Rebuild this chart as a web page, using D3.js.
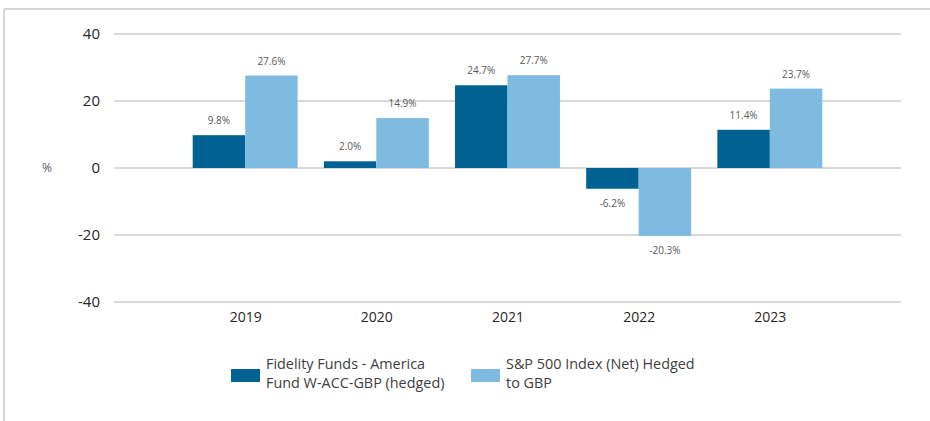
<!DOCTYPE html>
<html><head><meta charset="utf-8">
<script src="https://cdn.jsdelivr.net/npm/d3@7"></script>
<style>body{margin:0;background:#fff}svg{display:block}</style>
</head><body><svg id="c" width="930" height="421"></svg>
<script>
const years = ["2019","2020","2021","2022","2023"];
const fundValues = [9.8, 2.0, 24.7, -6.2, 11.4];
const indexValues = [27.6, 14.9, 27.7, -20.3, 23.7];
const seriesNames = ["Fidelity Funds - America Fund W-ACC-GBP (hedged)", "S&P 500 Index (Net) Hedged to GBP"];
const legendLines = [["Fidelity Funds - America","Fund W-ACC-GBP (hedged)"],["S&P 500 Index (Net) Hedged","to GBP"]];
const yTicks = [-40,-20,0,20,40];
const colors = ["#006192","#7fbbe1"];

const svg = d3.select("#c");
// frame
svg.append("line").attr("x1",4).attr("x2",930).attr("y1",9).attr("y2",9).attr("stroke","#d6d6d6").attr("stroke-width",2);
svg.append("line").attr("x1",4).attr("x2",4).attr("y1",9).attr("y2",421).attr("stroke","#d6d6d6").attr("stroke-width",2);

const left=114, right=901;
const y = d3.scaleLinear().domain([-40,40]).range([302,34]);
const x = d3.scalePoint().domain(years).range([left,right]).padding(1);
const bw = x.step()*0.4;

// grid
svg.append("g").selectAll("line").data(yTicks).join("line")
  .attr("x1",left).attr("x2",right).attr("y1",d=>y(d)).attr("y2",d=>y(d))
  .attr("stroke","#d9d9d9").attr("stroke-width",2);

// y ticks
const yAxis = d3.axisLeft(y).tickValues(yTicks).tickSize(0).tickPadding(0).tickFormat(d=>String(d));
const ga = svg.append("g").attr("transform",`translate(100,0)`).call(yAxis);
ga.select(".domain").remove();
ga.selectAll("text").attr("font-family","Open Sans, sans-serif").attr("font-size",15).attr("fill","#262626");

svg.append("text").attr("x",47).attr("y",y(0)).attr("dy","0.35em").attr("text-anchor","middle")
  .attr("font-family","Open Sans, sans-serif").attr("font-size",12).attr("fill","#595959").text("%");

// x labels
const xAxis = d3.axisBottom(x).tickSize(0).tickPadding(0);
const gx = svg.append("g").attr("transform",`translate(0,312)`).call(xAxis);
gx.select(".domain").remove();
gx.selectAll("text").attr("font-family","Open Sans, sans-serif").attr("font-size",14).attr("fill","#262626");

const series = [fundValues, indexValues];
series.forEach((vals,si)=>{
  const g = svg.append("g");
  const data = years.map((yr,i)=>({yr, v:vals[i]}));
  g.selectAll("rect").data(data).join("rect")
    .attr("x",d=>x(d.yr)-bw+si*bw).attr("width",bw)
    .attr("y",d=>y(Math.max(0,d.v))).attr("height",d=>Math.abs(y(d.v)-y(0)))
    .attr("fill",colors[si]);
  g.selectAll("text").data(data).join("text")
    .attr("x",d=>x(d.yr)-bw/2+si*bw)
    .attr("y",d=>d.v>=0 ? y(d.v)-11 : y(d.v)+18)
    .attr("text-anchor","middle").attr("font-family","Open Sans, sans-serif").attr("font-size",10)
    .attr("fill","#595959").text(d=>d.v.toFixed(1)+"%");
});

// legend
const lx = [231,471];
legendLines.forEach((lines,i)=>{
  svg.append("rect").attr("x",lx[i]).attr("y",369).attr("width",29).attr("height",13).attr("fill",colors[i]);
  const t = svg.append("text").attr("font-family","Open Sans, sans-serif").attr("font-size",14.4).attr("fill","#404040");
  lines.forEach((ln,j)=>{
    t.append("tspan").attr("x",lx[i]+35).attr("y",369+j*19).text(ln);
  });
});
</script></body></html>
